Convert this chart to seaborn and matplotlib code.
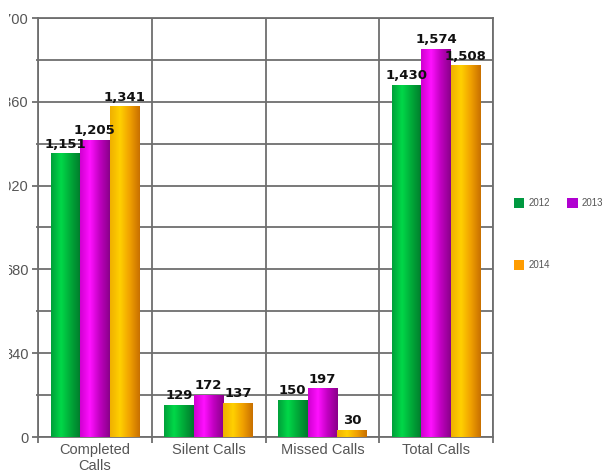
import numpy as np
import pandas as pd
import matplotlib
matplotlib.use("Agg")
import matplotlib.pyplot as plt
import matplotlib.ticker as mtick
from matplotlib.colors import LinearSegmentedColormap
from matplotlib.patches import Patch
from matplotlib.transforms import Bbox
import seaborn as sns

# ── Data ──────────────────────────────────────────────────────────────────────
categories = ["Completed\nCalls", "Silent Calls", "Missed Calls", "Total Calls"]
years = ["2012", "2013", "2014"]
calls_2012 = [1151, 129, 150, 1430]
calls_2013 = [1205, 172, 197, 1574]
calls_2014 = [1341, 137, 30, 1508]

df = pd.DataFrame({
    "category": categories * 3,
    "year": [y for y in years for _ in categories],
    "calls": calls_2012 + calls_2013 + calls_2014,
})

# ── Style ─────────────────────────────────────────────────────────────────────
sns.set_theme(style="white")
plt.rcParams["font.family"] = ["Liberation Sans", "DejaVu Sans"]

GRID = "#6e6e6e"
TEXT = "#555555"
base_colors = {"2012": "#00b040", "2013": "#e000e0", "2014": "#f5b000"}
gradients = {
    "2012": ["#00a03a", "#00d848", "#00a838", "#007a2c"],
    "2013": ["#d000d0", "#ff10ff", "#c000c0", "#8a008a"],
    "2014": ["#f0b000", "#ffd000", "#f0a000", "#c87000"],
}
legend_colors = {"2012": "#009940", "2013": "#b000d0", "2014": "#ff9c00"}

fig = plt.figure(figsize=(6.16, 4.73), dpi=100)
ax = fig.add_axes([38 / 616, 36 / 473, (493 - 38) / 616, (437 - 18) / 473])

sns.barplot(data=df, x="category", y="calls", hue="year", order=categories,
            hue_order=years, palette=base_colors, width=0.78, ax=ax,
            legend=False, saturation=1, edgecolor="none", zorder=3)

# cylinder-like shading on each bar
for year, container in zip(years, ax.containers):
    cmap = LinearSegmentedColormap.from_list(year, gradients[year])
    grad = np.linspace(0, 1, 64).reshape(1, -1)
    for bar in container:
        x0, y0 = bar.get_x(), bar.get_y()
        w, h = bar.get_width(), bar.get_height()
        im = ax.imshow(grad, cmap=cmap, aspect="auto", zorder=4,
                       extent=[x0, x0 + w, y0, y0 + h])
        im.set_clip_path(bar)
    ax.bar_label(container, fmt="{:,.0f}", padding=2, fontsize=9.5,
                 fontweight="bold", color="#111111", family="DejaVu Sans",
                 zorder=6)

# ── Axes ──────────────────────────────────────────────────────────────────────
ax.set_xlim(-0.5, 3.5)
ax.set_ylim(0, 1700)
ax.yaxis.set_major_locator(mtick.MultipleLocator(340))
ax.yaxis.set_minor_locator(mtick.MultipleLocator(170))
ax.set_xticks([-0.5, 0.5, 1.5, 2.5, 3.5], minor=True)
ax.grid(True, which="both", axis="y", color=GRID, linewidth=1.3, zorder=1)
ax.grid(True, which="minor", axis="x", color=GRID, linewidth=1.3, zorder=1)
ax.tick_params(axis="y", which="major", length=4, width=1.3, color=GRID,
               pad=2.5, labelsize=10.5, labelcolor=TEXT, left=True)
ax.tick_params(axis="y", which="minor", length=1.5, width=1.3, color=GRID,
               left=True)
ax.tick_params(axis="x", which="major", length=0, pad=4, labelsize=10.5,
               labelcolor=TEXT)
ax.tick_params(axis="x", which="minor", length=4, width=1.3, color=GRID,
               bottom=True)
ax.set_xlabel("")
ax.set_ylabel("")
for side in ax.spines.values():
    side.set_color(GRID)
    side.set_linewidth(1.3)
    side.set_visible(True)

# ── Legend (row-major order: 2012, 2013 / 2014) ───────────────────────────────
handles = [Patch(facecolor=legend_colors[y], edgecolor="none", label=y)
           for y in ["2012", "2014", "2013"]]
fig.legend(handles=handles, ncol=2, frameon=False, loc="upper left",
           bbox_to_anchor=(505 / 616, 1 - 189 / 473), fontsize=7,
           labelcolor=TEXT, handlelength=1.1, handleheight=1.3,
           handletextpad=0.4, columnspacing=1.8, labelspacing=5.3)

# the y tick labels are cut at the left like in the source image
fig.canvas.draw()
cut = Bbox.from_extents(9, 0, 40, 473)
for tick in ax.yaxis.get_major_ticks():
    tick.label1.set_clip_box(cut)
    tick.label1.set_clip_on(True)

fig.savefig("out.png", dpi=100)
